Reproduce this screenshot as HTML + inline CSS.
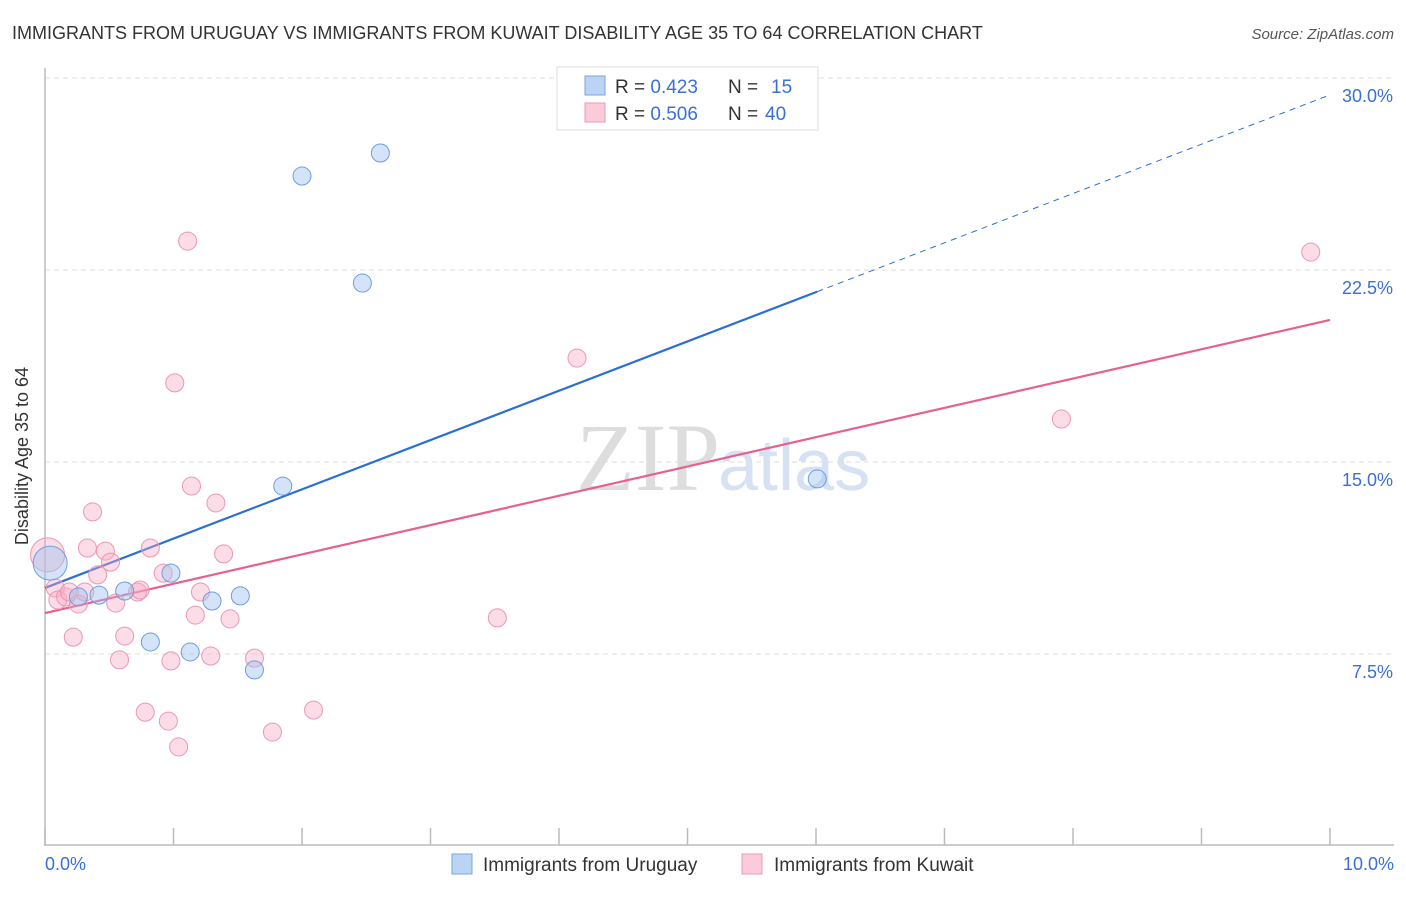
<!DOCTYPE html>
<html><head><meta charset="utf-8"><style>
body{margin:0;background:#fff;font-family:"Liberation Sans",sans-serif;}
</style></head><body>
<svg width="1406" height="892" viewBox="0 0 1406 892" xmlns="http://www.w3.org/2000/svg">
<text x="12" y="39" font-size="18" fill="#333">IMMIGRANTS FROM URUGUAY VS IMMIGRANTS FROM KUWAIT DISABILITY AGE 35 TO 64 CORRELATION CHART</text>
<text x="1394" y="39" font-size="15" fill="#555" text-anchor="end" font-style="italic">Source: ZipAtlas.com</text>
<text x="720" y="490" font-size="96" fill="#ddd" text-anchor="end" font-family="Liberation Serif,serif">ZIP</text>
<text x="718" y="490" font-size="72" fill="#d6e2f3">atlas</text>
<g id="grid"></g>
<line x1="45" y1="68" x2="45" y2="846" stroke="#bbb" stroke-width="1.5"/>
<line x1="45" y1="845" x2="1394" y2="845" stroke="#bbb" stroke-width="1.5"/>
<text x="28" y="456" font-size="18" fill="#333" text-anchor="middle" transform="rotate(-90 28 456)">Disability Age 35 to 64</text>
<text x="45" y="870" font-size="18" fill="#3a6fd8">0.0%</text>
<text x="1394" y="870" font-size="18" fill="#3a6fd8" text-anchor="end">10.0%</text>
<g id="lines"></g>
<g id="points"></g>
<g>
<rect x="557" y="67" width="261" height="63" fill="#fff" stroke="#ddd"/>
<rect x="585" y="76" width="20" height="19" fill="#bcd4f4" stroke="#7aa3de"/>
<rect x="585" y="103" width="20" height="19" fill="#fbcbd9" stroke="#ef9ab4"/>
<text x="615" y="93" font-size="19" fill="#333">R = <tspan fill="#3a6fd8">0.423</tspan><tspan x="728">N = </tspan><tspan fill="#3a6fd8" x="771">15</tspan></text>
<text x="615" y="120" font-size="19" fill="#333">R = <tspan fill="#3a6fd8">0.506</tspan><tspan x="728">N = </tspan><tspan fill="#3a6fd8" x="765">40</tspan></text>
</g>
<g>
<rect x="452" y="854" width="20" height="20" fill="#bcd4f4" stroke="#7aa3de"/>
<text x="483" y="871" font-size="19" fill="#333">Immigrants from Uruguay</text>
<rect x="742" y="854" width="20" height="20" fill="#fbcbd9" stroke="#ef9ab4"/>
<text x="774" y="871" font-size="19" fill="#333">Immigrants from Kuwait</text>
</g>
</svg>
<script>
const yTicks=[7.5,15,22.5,30];
const yTickLabels=["7.5%","15.0%","22.5%","30.0%"];
const xTickVals=[0,1,2,3,4,5,6,7,8,9,10];
const uruguayX=[0.04,0.26,0.42,0.62,0.82,0.98,1.13,1.30,1.52,1.63,1.85,2.00,2.47,2.61,6.01];
const uruguayY=[11.05,9.73,9.80,9.96,7.97,10.66,7.58,9.57,9.77,6.88,14.06,26.17,21.99,27.07,14.34];
const kuwaitX=[0.02,0.08,0.10,0.16,0.19,0.22,0.26,0.33,0.37,0.41,0.47,0.51,0.55,0.58,0.62,0.72,0.74,0.78,0.82,0.92,0.96,0.98,1.01,1.04,1.11,1.14,1.17,1.21,1.29,1.33,1.39,1.44,1.63,1.77,2.09,3.52,4.14,7.91,9.85,0.31];
const kuwaitY=[11.37,10.08,9.61,9.73,9.92,8.16,9.45,11.64,13.05,10.59,11.52,11.09,9.49,7.27,8.20,9.92,10.00,5.23,11.64,10.66,4.88,7.23,18.09,3.87,23.63,14.06,9.02,9.92,7.42,13.40,11.41,8.87,7.34,4.45,5.31,8.91,19.06,16.68,23.20,9.92];
const uruguayLine=[10.08,29.34];
const kuwaitLine=[9.10,20.55];
const uruguaySolidEnd=6.01;
const NS="http://www.w3.org/2000/svg";
const xs=v=>45+v*128.5, ys=v=>846-v*25.6;
function mk(tag,attrs,parent){const e=document.createElementNS(NS,tag);for(const k in attrs)e.setAttribute(k,attrs[k]);parent.appendChild(e);return e;}
const grid=document.getElementById('grid');
yTicks.forEach((t,i)=>{
 const l=mk('line',{x1:45,x2:1394,y1:ys(t),y2:ys(t),stroke:'#ddd','stroke-dasharray':'5,4'},grid);
 
 
 const tx=mk('text',{x:1393,y:ys(t)+24,'font-size':18,fill:'#3a6fd8','text-anchor':'end'},grid);
 tx.textContent=yTickLabels[i];
 
 
});
xTickVals.forEach(v=>{
 const l=mk('line',{x1:xs(v),x2:xs(v),y1:828,y2:845,stroke:'#bbb','stroke-width':1.5},grid);
 
 
});
const lines=document.getElementById('lines');
const ly=(c,x)=>c[0]+(c[1]-c[0])*x/10;
let a=mk('line',{x1:xs(0),y1:ys(ly(uruguayLine,0)),x2:xs(uruguaySolidEnd),y2:ys(ly(uruguayLine,uruguaySolidEnd)),stroke:'#2a6fd6','stroke-width':2.2},lines);


a=mk('line',{x1:xs(uruguaySolidEnd),y1:ys(ly(uruguayLine,uruguaySolidEnd)),x2:xs(10),y2:ys(ly(uruguayLine,10)),stroke:'#2a6fd6','stroke-width':1,'stroke-dasharray':'6,5'},lines);


a=mk('line',{x1:xs(0),y1:ys(ly(kuwaitLine,0)),x2:xs(10),y2:ys(ly(kuwaitLine,10)),stroke:'#e8608c','stroke-width':2.2},lines);


const pts=document.getElementById('points');
kuwaitX.forEach((x,i)=>{
 const c=mk('circle',{cx:xs(x),cy:ys(kuwaitY[i]),r:i===0?17:9,fill:'rgba(247,170,195,0.4)',stroke:'#eb97b2','stroke-width':1},pts);
 
 
});
uruguayX.forEach((x,i)=>{
 const c=mk('circle',{cx:xs(x),cy:ys(uruguayY[i]),r:i===0?17:9,fill:'rgba(160,195,240,0.45)',stroke:'#6f9ce0','stroke-width':1},pts);
 
 
});
</script>
</body></html>
